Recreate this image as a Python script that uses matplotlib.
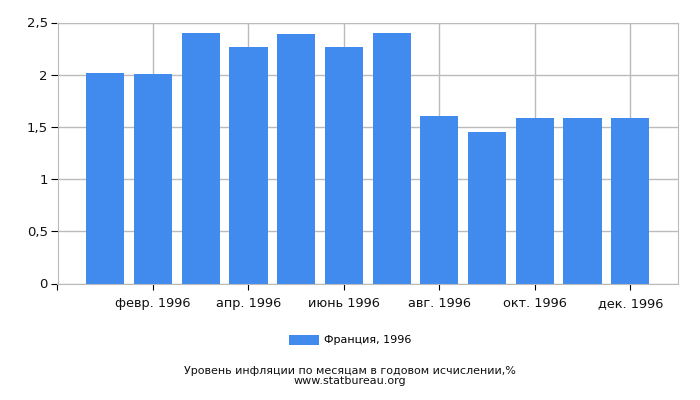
import matplotlib.pyplot as plt
import matplotlib.ticker as mticker

# данные: инфляция во Франции по месяцам, 1996
months = ['янв. 1996', 'февр. 1996', 'март 1996', 'апр. 1996', 'май 1996', 'июнь 1996',
          'июль 1996', 'авг. 1996', 'сент. 1996', 'окт. 1996', 'нояб. 1996', 'дек. 1996']
values = [2.02, 2.01, 2.40, 2.27, 2.39, 2.27, 2.40, 1.60, 1.45, 1.59, 1.59, 1.59]
series_name = 'Франция, 1996'

plt.rcParams['font.family'] = ['DejaVu Sans']
fig = plt.figure(figsize=(7, 4), dpi=100)
ax = fig.add_axes([57.5 / 700, 1 - 283.5 / 400, (678 - 57.5) / 700, (283.5 - 22.5) / 400])

x = list(range(len(values)))
ax.bar(x, values, width=0.8, color='#418bee', label=series_name, zorder=2)

ax.set_xlim(-1, 12)
ax.set_ylim(0, 2.5)

# подписи только у чётных месяцев
tick_pos = [-1] + x[1::2]
ax.set_xticks(tick_pos)
ax.set_xticklabels([''] + months[1::2], fontsize=9.3, color='#111111')
ax.set_yticks([0, 0.5, 1, 1.5, 2, 2.5])
ax.yaxis.set_major_formatter(mticker.FuncFormatter(lambda v, p: ('%g' % v).replace('.', ',')))
ax.tick_params(axis='y', labelsize=9.5, length=5, color='black', pad=2, labelcolor='#111111')
ax.tick_params(axis='x', length=4, color='black', pad=6)

ax.grid(True, color='#bbbbbb', linewidth=1, zorder=0)
for s in ax.spines.values():
    s.set_color('#bbbbbb')

fig.legend(loc='center', bbox_to_anchor=(0.5, 1 - 340 / 400), frameon=False,
           fontsize=8, handlelength=2.7, handleheight=1.0, handletextpad=0.5)
fig.text(0.5, 1 - 370.5 / 400, 'Уровень инфляции по месяцам в годовом исчислении,%',
         ha='center', va='center', fontsize=8, color='#111111')
fig.text(0.5, 1 - 381.5 / 400, 'www.statbureau.org', ha='center', va='center',
         fontsize=8, color='#111111')

fig.savefig('out.png', dpi=100)
